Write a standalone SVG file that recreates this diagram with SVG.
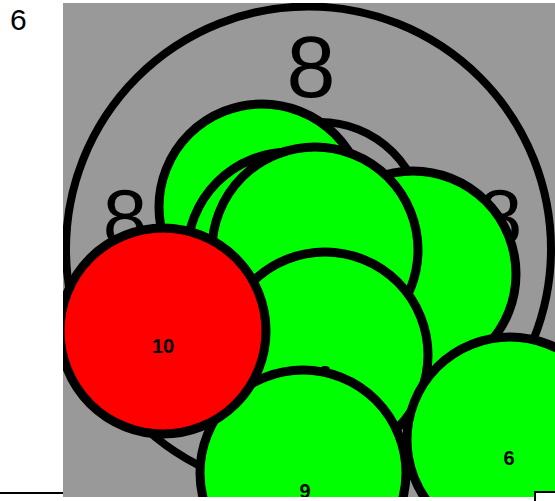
<svg xmlns="http://www.w3.org/2000/svg" width="555" height="501" viewBox="0 0 555 501">
<style>
.g{fill:#00ff00;stroke:#000;stroke-width:9}
.gr{fill:#999;stroke:#000;stroke-width:8}
.r{fill:#ff0000;stroke:#000;stroke-width:9}
.lb{font-family:"Liberation Sans",Arial,sans-serif;font-size:20px;font-weight:bold;text-anchor:middle;fill:#000}
.big{font-family:"Liberation Sans",Arial,sans-serif;text-anchor:middle;fill:#000}
</style>
<defs>
<clipPath id="clip"><rect x="63" y="3" width="492" height="494"/></clipPath>
</defs>
<text x="10" y="30" font-family="Liberation Sans, Arial, sans-serif" font-size="30">6</text>
<g id="connectors">
<line x1="0" y1="493" x2="63" y2="493" stroke="#000" stroke-width="2"/>
</g>
<g clip-path="url(#clip)">
<rect x="63" y="3" width="492" height="494" fill="#999"/>
<g id="outer">
<circle class="gr" cx="308.5" cy="249" r="242.5"/>
<text class="big" x="311" y="97" font-size="88">8</text>
<text class="big" x="125" y="245" font-size="80">8</text>
<text class="big" x="500" y="245" font-size="80">8</text>
</g>
<g id="inner"><circle class="gr" cx="320" cy="225" r="103" stroke-width="9"/></g>
<g id="nA"><circle class="g" cx="262" cy="207" r="103"/></g>
<g id="nB"><circle class="g" cx="290" cy="255" r="103"/></g>
<g id="nD"><circle class="g" cx="413" cy="274" r="103"/></g>
<g id="nC"><circle class="g" cx="315" cy="250" r="103"/></g>
<g id="nE"><circle class="g" cx="325" cy="355" r="103"/><text class="lb" x="325" y="380">8</text></g>
<g id="nF"><circle class="g" cx="303" cy="473" r="103"/><text class="lb" x="305" y="498">9</text></g>
<g id="nR"><circle class="r" cx="163" cy="331" r="103"/><text class="lb" x="163" y="353">10</text></g>
<g id="nG"><circle class="g" cx="510" cy="440" r="103"/><text class="lb" x="509" y="465">6</text></g>
</g>
<rect x="535" y="492" width="30" height="20" fill="#fff" stroke="#000" stroke-width="2"/>
</svg>
